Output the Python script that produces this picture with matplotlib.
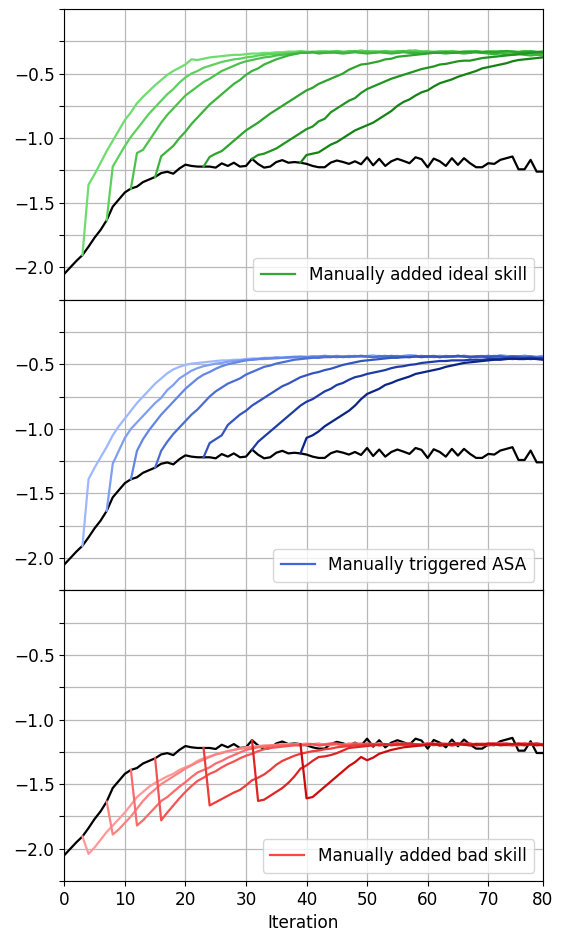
import numpy as np
import matplotlib
matplotlib.use("Agg")
import matplotlib.pyplot as plt

plt.rcParams["font.family"] = ["DejaVu Sans"]
plt.rcParams["font.size"] = 12.2

# Iteration at which each intervention run branches off the baseline
starts = [3, 7, 11, 15, 23, 31, 39]

# Baseline run (iterations 0..79)
baseline = [
    -2.05, -2.00, -1.95, -1.905, -1.84, -1.77, -1.71, -1.635, -1.53, -1.475,
    -1.42, -1.39, -1.375, -1.34, -1.32, -1.30, -1.27, -1.26, -1.275, -1.235,
    -1.205, -1.215, -1.22, -1.22, -1.22, -1.228, -1.195, -1.215, -1.19, -1.22,
    -1.215, -1.16, -1.20, -1.228, -1.22, -1.185, -1.17, -1.19, -1.185, -1.19,
    -1.199, -1.215, -1.225, -1.225, -1.189, -1.173, -1.184, -1.199, -1.179, -1.202,
    -1.148, -1.210, -1.160, -1.215, -1.179, -1.160, -1.176, -1.194, -1.148, -1.163,
    -1.225, -1.158, -1.179, -1.215, -1.155, -1.207, -1.155, -1.194, -1.225, -1.225,
    -1.194, -1.199, -1.168, -1.155, -1.142, -1.241, -1.241, -1.168, -1.259, -1.259,
]

# Manually added ideal skill
ideal_1 = [
    -1.905, -1.36, -1.28, -1.19, -1.10, -1.02, -0.94, -0.86, -0.80, -0.73,
    -0.68, -0.635, -0.59, -0.55, -0.51, -0.48, -0.455, -0.43, -0.39, -0.395,
    -0.385, -0.375, -0.37, -0.365, -0.36, -0.355, -0.355, -0.35, -0.345, -0.345,
    -0.34, -0.34, -0.335, -0.335, -0.33, -0.33, -0.325,
    -0.33, -0.335, -0.33, -0.325, -0.33, -0.33, -0.335, -0.325, -0.33, -0.32,
    -0.33, -0.325, -0.33, -0.335, -0.33, -0.325, -0.33, -0.32, -0.325, -0.33,
    -0.335, -0.33, -0.33, -0.325, -0.34, -0.335, -0.33, -0.325, -0.33, -0.335,
    -0.33, -0.325, -0.33, -0.335, -0.33, -0.33, -0.325, -0.33, -0.335, -0.33,
]
ideal_2 = [
    -1.635, -1.22, -1.14, -1.06, -0.99, -0.93, -0.87, -0.81, -0.76, -0.71,
    -0.66, -0.62, -0.57, -0.53, -0.50, -0.48, -0.455, -0.44, -0.425, -0.41,
    -0.40, -0.39, -0.385, -0.375, -0.37, -0.36, -0.355, -0.35, -0.35, -0.345,
    -0.34, -0.34, -0.335,
    -0.335, -0.33, -0.335, -0.34, -0.33, -0.325, -0.33, -0.335, -0.33, -0.33,
    -0.325, -0.335, -0.33, -0.325, -0.33, -0.335, -0.33, -0.33, -0.32, -0.33,
    -0.325, -0.335, -0.33, -0.33, -0.325, -0.33, -0.335, -0.33, -0.325, -0.33,
    -0.33, -0.335, -0.325, -0.33, -0.33, -0.335, -0.33, -0.325, -0.33, -0.335,
]
ideal_3 = [
    -1.39, -1.115, -1.09, -1.02, -0.95, -0.88, -0.82, -0.77, -0.72, -0.67,
    -0.635, -0.60, -0.565, -0.54, -0.51, -0.48, -0.46, -0.44, -0.42, -0.405,
    -0.395, -0.385, -0.375, -0.37, -0.36, -0.355, -0.35, -0.345, -0.34,
    -0.34, -0.335, -0.33, -0.335, -0.34, -0.33, -0.335, -0.33, -0.325, -0.335,
    -0.33, -0.34, -0.335, -0.33, -0.335, -0.33, -0.325, -0.33, -0.335, -0.33,
    -0.34, -0.335, -0.33, -0.335, -0.33, -0.34, -0.335, -0.33, -0.335, -0.34,
    -0.335, -0.33, -0.34, -0.335, -0.34, -0.345, -0.34, -0.345, -0.35, -0.35,
]
ideal_4 = [
    -1.30, -1.14, -1.10, -1.06, -1.00, -0.95, -0.89, -0.84, -0.79, -0.74,
    -0.70, -0.66, -0.62, -0.58, -0.55, -0.51, -0.48, -0.46, -0.43, -0.41,
    -0.39, -0.375, -0.36, -0.35, -0.34,
    -0.34, -0.335, -0.345, -0.34, -0.335, -0.34, -0.345, -0.34, -0.335, -0.34,
    -0.345, -0.34, -0.335, -0.34, -0.345, -0.34, -0.335, -0.34, -0.34, -0.345,
    -0.34, -0.335, -0.34, -0.345, -0.34, -0.34, -0.345, -0.34, -0.335, -0.34,
    -0.345, -0.35, -0.345, -0.35, -0.355, -0.35, -0.355, -0.36, -0.355, -0.36,
]
ideal_5 = [
    -1.22, -1.145, -1.12, -1.10, -1.06, -1.02, -0.98, -0.94, -0.91, -0.88,
    -0.845, -0.81, -0.78, -0.75, -0.72, -0.69, -0.66, -0.63, -0.61, -0.58,
    -0.56, -0.54, -0.52, -0.50, -0.47, -0.45, -0.43, -0.425, -0.415, -0.405,
    -0.39, -0.385, -0.37, -0.365, -0.36, -0.355, -0.35, -0.345, -0.34, -0.34,
    -0.335, -0.34, -0.335, -0.33, -0.335, -0.33, -0.335, -0.33, -0.335, -0.33,
    -0.325, -0.33, -0.335, -0.33, -0.33, -0.335, -0.34,
]
ideal_6 = [
    -1.16, -1.13, -1.12, -1.10, -1.08, -1.05, -1.02, -0.99, -0.96, -0.93,
    -0.91, -0.87, -0.85, -0.80, -0.77, -0.74, -0.71, -0.69, -0.65, -0.62,
    -0.60, -0.58, -0.56, -0.54, -0.525, -0.51, -0.495, -0.48, -0.465, -0.455,
    -0.445, -0.43, -0.425, -0.415, -0.405, -0.40, -0.40, -0.39, -0.38, -0.375,
    -0.37, -0.365, -0.36, -0.355, -0.35, -0.345, -0.34, -0.335, -0.33,
]
ideal_7 = [
    -1.19, -1.13, -1.12, -1.11, -1.08, -1.05, -1.03, -1.00, -0.97, -0.94,
    -0.92, -0.90, -0.88, -0.85, -0.82, -0.79, -0.75, -0.72, -0.70, -0.67,
    -0.645, -0.63, -0.60, -0.575, -0.56, -0.545, -0.525, -0.51, -0.495, -0.48,
    -0.46, -0.45, -0.44, -0.43, -0.42, -0.405, -0.395, -0.39, -0.385, -0.38,
    -0.375,
]

# Manually triggered ASA
asa_1 = [
    -1.905, -1.39, -1.30, -1.22, -1.14, -1.05, -0.98, -0.92, -0.86, -0.80,
    -0.75, -0.70, -0.65, -0.61, -0.57, -0.54, -0.52, -0.505, -0.495, -0.49,
    -0.485, -0.48, -0.475, -0.47, -0.47, -0.465, -0.465, -0.46, -0.455, -0.455,
    -0.45, -0.45, -0.445, -0.45, -0.445, -0.44, -0.445,
    -0.44, -0.445, -0.44, -0.435, -0.44, -0.445, -0.44, -0.435, -0.44, -0.44,
    -0.435, -0.43, -0.44, -0.445, -0.44, -0.435, -0.44, -0.43, -0.435, -0.44,
    -0.445, -0.44, -0.435, -0.44, -0.44, -0.435, -0.44, -0.445, -0.44, -0.435,
    -0.44, -0.44, -0.435, -0.44, -0.445, -0.44, -0.435, -0.44, -0.44, -0.435,
]
asa_2 = [
    -1.635, -1.27, -1.17, -1.07, -1.00, -0.95, -0.90, -0.85, -0.80, -0.76,
    -0.70, -0.66, -0.61, -0.58, -0.55, -0.53, -0.515, -0.505, -0.495, -0.49,
    -0.48, -0.475, -0.47, -0.465,
    -0.465, -0.46, -0.46, -0.455, -0.455, -0.45, -0.45, -0.445, -0.45, -0.445,
    -0.44, -0.445, -0.44, -0.44, -0.435, -0.44, -0.445, -0.44, -0.435, -0.44,
    -0.44, -0.435, -0.44, -0.445, -0.44, -0.435, -0.43, -0.435, -0.44, -0.44,
    -0.445, -0.44, -0.435, -0.44, -0.44, -0.435, -0.44, -0.445, -0.44, -0.435,
    -0.44, -0.43, -0.435, -0.44, -0.44, -0.435, -0.44, -0.445, -0.44,
]
asa_3 = [
    -1.39, -1.17, -1.08, -1.01, -0.95, -0.89, -0.84, -0.79, -0.74, -0.69,
    -0.65, -0.61, -0.58, -0.56, -0.535, -0.515, -0.50, -0.49, -0.48, -0.47,
    -0.465,
    -0.46, -0.455, -0.455, -0.45, -0.45, -0.445, -0.445, -0.44, -0.445, -0.44,
    -0.44, -0.435, -0.44, -0.445, -0.44, -0.44, -0.435, -0.44, -0.44, -0.445,
    -0.44, -0.435, -0.44, -0.44, -0.445, -0.44, -0.435, -0.44, -0.44, -0.435,
    -0.44, -0.445, -0.44, -0.44, -0.435, -0.44, -0.445, -0.44, -0.44, -0.435,
    -0.44, -0.445, -0.44, -0.44, -0.435, -0.44, -0.445, -0.44,
]
asa_4 = [
    -1.30, -1.17, -1.10, -1.04, -0.99, -0.94, -0.89, -0.85, -0.80, -0.75,
    -0.71, -0.68, -0.65, -0.63, -0.61, -0.58, -0.56, -0.54, -0.52, -0.51,
    -0.495, -0.485, -0.475, -0.465, -0.46, -0.455,
    -0.45, -0.45, -0.445, -0.445, -0.44, -0.445, -0.44, -0.44, -0.435, -0.44,
    -0.445, -0.44, -0.44, -0.435, -0.44, -0.44, -0.445, -0.44, -0.435, -0.44,
    -0.44, -0.445, -0.44, -0.44, -0.435, -0.44, -0.445, -0.44, -0.44, -0.435,
    -0.44, -0.44, -0.445, -0.44, -0.44, -0.445, -0.44, -0.45, -0.445,
]
asa_5 = [
    -1.22, -1.11, -1.08, -1.05, -0.97, -0.93, -0.89, -0.86, -0.82, -0.79,
    -0.76, -0.73, -0.70, -0.67, -0.65, -0.625, -0.60, -0.585, -0.57, -0.56,
    -0.545, -0.535, -0.52, -0.505, -0.495, -0.485, -0.475, -0.47, -0.465, -0.46,
    -0.455, -0.45, -0.45,
    -0.445, -0.445, -0.44, -0.445, -0.44, -0.44, -0.445, -0.44, -0.44, -0.435,
    -0.44, -0.445, -0.44, -0.44, -0.445, -0.44, -0.44, -0.445, -0.44, -0.445,
    -0.45, -0.445, -0.45, -0.455,
]
asa_6 = [
    -1.16, -1.10, -1.06, -1.02, -0.98, -0.94, -0.90, -0.86, -0.82, -0.79,
    -0.77, -0.74, -0.71, -0.69, -0.66, -0.645, -0.62, -0.60, -0.59, -0.575,
    -0.565, -0.555, -0.545, -0.53, -0.52, -0.515, -0.505, -0.50, -0.49, -0.485,
    -0.48, -0.475, -0.475, -0.47, -0.47, -0.47, -0.465, -0.465, -0.465, -0.46,
    -0.46, -0.46, -0.455, -0.46, -0.455, -0.455, -0.46, -0.455, -0.455,
]
asa_7 = [
    -1.19, -1.07, -1.05, -1.02, -0.98, -0.95, -0.92, -0.89, -0.86, -0.82,
    -0.77, -0.73, -0.71, -0.69, -0.66, -0.645, -0.625, -0.61, -0.595, -0.575,
    -0.565, -0.555, -0.545, -0.535, -0.52, -0.51, -0.50, -0.49, -0.485, -0.48,
    -0.475, -0.47, -0.465, -0.465, -0.46, -0.455, -0.46, -0.46, -0.455, -0.46,
    -0.465,
]

# Manually added bad skill
bad_1 = [
    -1.905, -2.04, -1.99, -1.93, -1.87, -1.82, -1.77, -1.72, -1.66, -1.60,
    -1.56, -1.52, -1.49, -1.465, -1.44, -1.42, -1.39, -1.37, -1.35, -1.32,
    -1.30, -1.285, -1.27, -1.255, -1.245, -1.235, -1.225, -1.215, -1.21, -1.205,
    -1.20, -1.20, -1.195, -1.19,
    -1.19, -1.195, -1.19, -1.185, -1.19, -1.195, -1.19, -1.185, -1.19, -1.195,
    -1.19, -1.185, -1.19, -1.19, -1.195, -1.185, -1.19, -1.195, -1.19, -1.185,
    -1.19, -1.195, -1.19, -1.185, -1.19, -1.195, -1.19, -1.185, -1.19, -1.19,
    -1.195, -1.185, -1.19, -1.195, -1.19, -1.185, -1.19, -1.195, -1.19, -1.185,
    -1.19, -1.195, -1.19,
]
bad_2 = [
    -1.635, -1.89, -1.85, -1.80, -1.75, -1.69, -1.63, -1.58, -1.54, -1.50,
    -1.47, -1.44, -1.41, -1.38, -1.355, -1.33, -1.31, -1.29, -1.27, -1.26,
    -1.245, -1.235, -1.225, -1.22, -1.215, -1.21, -1.205, -1.20,
    -1.20, -1.195, -1.20, -1.19, -1.195, -1.20, -1.19, -1.185, -1.195, -1.20,
    -1.19, -1.195, -1.185, -1.19, -1.20, -1.195, -1.19, -1.185, -1.195, -1.19,
    -1.20, -1.195, -1.185, -1.19, -1.195, -1.19, -1.20, -1.19, -1.185, -1.195,
    -1.19, -1.195, -1.20, -1.19, -1.185, -1.19, -1.195, -1.19, -1.20, -1.195,
    -1.19, -1.185, -1.195, -1.19, -1.20,
]
bad_3 = [
    -1.39, -1.82, -1.78, -1.73, -1.68, -1.63, -1.60, -1.56, -1.52, -1.485,
    -1.445, -1.41, -1.39, -1.37, -1.34, -1.32, -1.295, -1.275, -1.255, -1.235,
    -1.225, -1.215, -1.21, -1.205, -1.20,
    -1.20, -1.195, -1.19, -1.20, -1.195, -1.19, -1.20, -1.195, -1.185, -1.19,
    -1.20, -1.195, -1.19, -1.185, -1.195, -1.20, -1.19, -1.195, -1.19, -1.185,
    -1.195, -1.20, -1.19, -1.195, -1.185, -1.19, -1.20, -1.195, -1.19, -1.195,
    -1.185, -1.19, -1.20, -1.195, -1.19, -1.185, -1.195, -1.19, -1.20, -1.195,
    -1.19, -1.185, -1.19, -1.195,
]
bad_4 = [
    -1.30, -1.78, -1.72, -1.665, -1.61, -1.56, -1.515, -1.475, -1.45, -1.42,
    -1.40, -1.37, -1.345, -1.325, -1.30, -1.28, -1.265, -1.245, -1.23, -1.22,
    -1.215, -1.21, -1.205, -1.20,
    -1.20, -1.195, -1.19, -1.20, -1.195, -1.19, -1.185, -1.195, -1.20, -1.19,
    -1.195, -1.185, -1.19, -1.20, -1.195, -1.19, -1.185, -1.195, -1.19, -1.20,
    -1.195, -1.19, -1.185, -1.19, -1.195, -1.20, -1.19, -1.185, -1.195, -1.19,
    -1.20, -1.195, -1.19, -1.185, -1.19, -1.195, -1.20, -1.19, -1.195, -1.185,
    -1.19,
]
bad_5 = [
    -1.22, -1.665, -1.64, -1.615, -1.59, -1.565, -1.545, -1.51, -1.47, -1.45,
    -1.425, -1.39, -1.35, -1.32, -1.30, -1.28, -1.265, -1.255, -1.245, -1.24,
    -1.23, -1.225, -1.215, -1.21, -1.205, -1.20,
    -1.20, -1.195, -1.19, -1.20, -1.195, -1.19, -1.185, -1.195, -1.20, -1.19,
    -1.195, -1.185, -1.19, -1.20, -1.195, -1.19, -1.185, -1.195, -1.19, -1.20,
    -1.195, -1.19, -1.185, -1.19, -1.195, -1.20, -1.19, -1.185, -1.195, -1.19,
    -1.20,
]
bad_6 = [
    -1.16, -1.63, -1.62, -1.59, -1.56, -1.53, -1.49, -1.44, -1.38, -1.355,
    -1.32, -1.29, -1.285, -1.275, -1.26, -1.24, -1.22, -1.215, -1.21, -1.205,
    -1.20,
    -1.195, -1.19, -1.20, -1.195, -1.19, -1.185, -1.195, -1.20, -1.19, -1.195,
    -1.185, -1.19, -1.20, -1.195, -1.19, -1.185, -1.195, -1.19, -1.20, -1.195,
    -1.19, -1.185, -1.19, -1.195, -1.20, -1.19, -1.185, -1.195,
]
bad_7 = [
    -1.19, -1.61, -1.60, -1.56, -1.52, -1.48, -1.44, -1.40, -1.36, -1.33,
    -1.29, -1.315, -1.295, -1.265, -1.25, -1.235, -1.225, -1.215, -1.21, -1.205,
    -1.20, -1.195,
    -1.19, -1.20, -1.195, -1.19, -1.185, -1.195, -1.20, -1.19, -1.195, -1.185,
    -1.19, -1.20, -1.195, -1.19, -1.185, -1.195, -1.19, -1.20, -1.195,
]

ideal_runs = [ideal_1, ideal_2, ideal_3, ideal_4, ideal_5, ideal_6, ideal_7]
asa_runs = [asa_1, asa_2, asa_3, asa_4, asa_5, asa_6, asa_7]
bad_runs = [bad_1, bad_2, bad_3, bad_4, bad_5, bad_6, bad_7]

legend_labels = ["Manually added ideal skill", "Manually triggered ASA",
                 "Manually added bad skill"]

# Tick positions / labels
x_ticks = [0, 10, 20, 30, 40, 50, 60, 70, 79]
x_tick_labels = ["0", "10", "20", "30", "40", "50", "60", "70", "80"]
y_ticks = [-2.25, -2.0, -1.75, -1.5, -1.25, -1.0, -0.75, -0.5, -0.25, 0.0]
y_tick_labels = ["", "\u22122.0", "", "\u22121.5", "", "\u22121.0", "",
                 "\u22120.5", "", ""]

# Per-run colours, light to dark
greens = ["#6fdc6f", "#5dd05d", "#4cc24c", "#3cb33c", "#2ea32e", "#219321", "#148214"]
blues = ["#9db8ff", "#809ff3", "#6486e4", "#4b6ed3", "#3455bf", "#1f3ca6", "#0c2487"]
reds = ["#ff9898", "#ff8282", "#fb6b6b", "#f55353", "#ec3c3c", "#de2424", "#cc0c0c"]
legend_colors = ["#2eaa2e", "#4466dd", "#ff4444"]

LW = 1.6

fig, axes = plt.subplots(3, 1, figsize=(5.62, 9.34), dpi=100, sharex=True)
fig.subplots_adjust(left=0.1144, right=0.9657, top=0.9904, bottom=0.0567,
                    hspace=0.0)

panels = [(ideal_runs, greens), (asa_runs, blues), (bad_runs, reds)]
base_x = np.arange(len(baseline))

for ax, (runs, cols), label, lcol in zip(axes, panels, legend_labels,
                                         legend_colors):
    ax.grid(True, color="#b8b8b8", linewidth=0.9, zorder=0)
    ax.set_axisbelow(True)
    ax.plot(base_x, baseline, color="black", linewidth=LW, zorder=2)
    for run, start, c in zip(runs, starts, cols):
        xs = np.arange(start, start + len(run))
        ax.plot(xs, run, color=c, linewidth=LW, zorder=3)
    handle = plt.Line2D([], [], color=lcol, linewidth=LW)
    ax.legend([handle], [label], loc="lower right", fontsize=12.2,
              borderpad=0.45, handlelength=2.0, handletextpad=0.8)
    ax.set_xlim(0, 79)
    ax.set_ylim(-2.25, 0.0)
    ax.set_yticks(y_ticks)
    ax.set_yticklabels(y_tick_labels)
    ax.set_xticks(x_ticks)

axes[2].set_xticklabels(x_tick_labels)
axes[2].set_xlabel("Iteration")

fig.savefig("out.png", dpi=100)
